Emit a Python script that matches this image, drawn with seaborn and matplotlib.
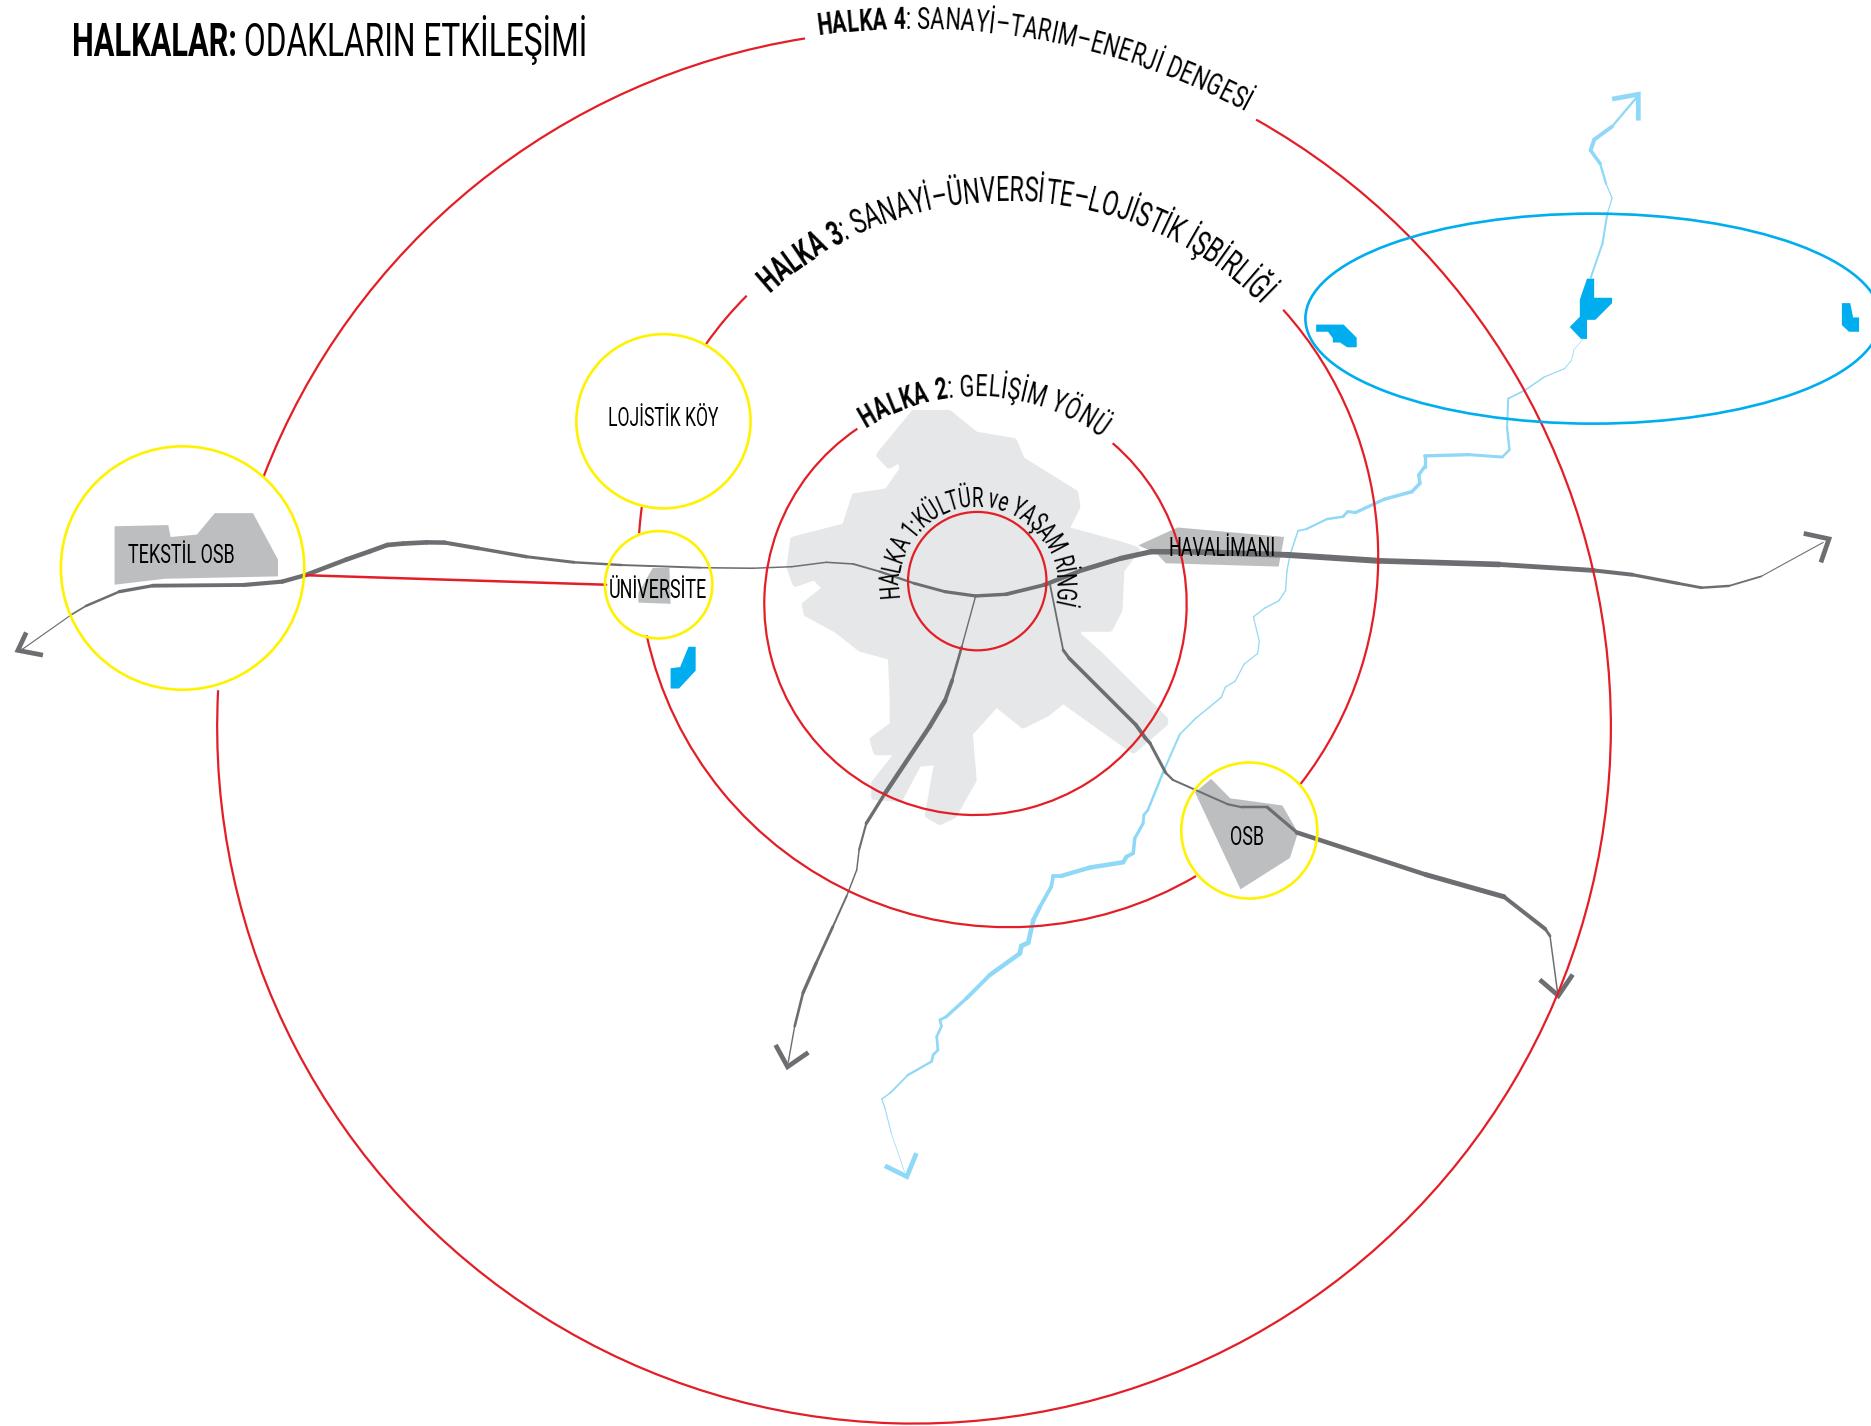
"""
halkalar diagram: rings, focal areas, roads and river
"""
import numpy as np
import pandas as pd
import matplotlib
matplotlib.use("Agg")
import matplotlib.pyplot as plt
import seaborn as sns
from fontTools.ttLib import TTFont
from fontTools.varLib import instancer
from matplotlib import font_manager as fm
from matplotlib.font_manager import FontProperties
from matplotlib.patches import Arc, Circle, Ellipse, Polygon
from matplotlib.textpath import TextToPath

sns.set_theme(style="white")

RED = "#e31e26"
YELLOW = "#fff200"
BLUE = "#00aeef"
RIVER = "#8fd8f7"
ROAD = "#6d6e71"
AREA = "#bcbec0"
CITY = "#e6e7e8"

# ---------- rings (cx, cy, r) and the angle spans that are actually drawn ----------
ring_centers = {"r1": (819, 487, 58), "r2": (817.5, 506, 177), "r3": (845, 467, 310), "r4": (766, 609, 584)}
ring_spans = {
    "r1": [(0, 360)],
    "r2": [(-49.5, 236)],
    "r3": [(-42, 37.8), (59.5, 167.8), (183.7, 187.8), (215.2, 225)],
    "r4": [(-60.6, 183), (201, 261)],
}
focus_x = [153, 556, 552, 1047]
focus_y = [476, 353, 490, 696]
focus_r = [102, 73, 45, 57]

# ---------- areas ----------
city_area = [(766, 346.4), (795, 346.4), (817.5, 364.5), (849.6, 370), (856, 385.5), (900.9, 413.4), (902.5, 424.6),
             (892.9, 444), (939.4, 456.7), (952.2, 460.9), (939.4, 477.6), (937.8, 511.2), (929.8, 526.5), (904, 526.5),
             (902.5, 532), (920.1, 547.5), (976.2, 603.3), (976, 606), (949.7, 628.5), (891, 586.6), (877, 597.8),
             (857.5, 607.5), (835, 589.4), (812.3, 614.5), (815.6, 653.6), (799, 683), (787.7, 688.5), (778, 683),
             (786, 638), (769.5, 639.7), (754, 669), (733, 667.6), (733, 656.4), (754, 630), (734.6, 630), (731.8, 620),
             (748.6, 607.5), (748.6, 586.6), (747, 550.3), (721.3, 543.3), (702, 528), (676.4, 514), (674.8, 507),
             (692.4, 493), (682.8, 483.2), (666.8, 488.8), (662, 474.8), (665.2, 452.5), (708.5, 441.3), (716.5, 416.2),
             (743.7, 412), (756.6, 393.8), (755, 384), (745.3, 389.7), (737.3, 381.3)]
tekstil_area = [(96, 441), (141, 440), (143, 450), (165, 448), (180, 430), (212, 430), (233, 469), (233, 483), (138, 485), (96, 490)]
uni_area = [(535, 505), (535, 497), (547, 476), (561, 476), (562, 506)]
airport_area = [(954, 457), (986.8, 442), (1076.2, 450), (1071.6, 474.8), (977, 472), (969.5, 464)]
osb_area = [(1001.5, 664), (1015, 652.7), (1031, 669), (1074.7, 675), (1087.8, 697.7), (1081, 719), (1039.6, 745.3)]

lake_a = [(577, 542), (583, 542), (583, 562), (569, 577), (562, 577), (562, 560), (570, 559)]
lake_b = [(1103, 272), (1126, 272), (1137, 283), (1137, 291), (1129, 291), (1123, 287), (1117, 287), (1117, 283.5), (1113, 278), (1103, 278)]
lake_c = [(1330, 233.5), (1336, 233.5), (1336, 249.5), (1351, 249.5), (1351, 254), (1337, 268), (1330, 268), (1330, 284),
          (1325, 284), (1315.5, 274), (1324, 265.4), (1324, 251)]
lake_d = [(1543.6, 254), (1550.6, 254), (1553, 266), (1558, 266), (1558, 278), (1549.6, 278), (1543.6, 272.4)]

# ---------- roads: x, y, stroke width ----------
road_w_x = [16, 60, 72, 100, 128, 204.4, 236.5, 256.5, 290, 310, 324.6, 338, 358, 372.7, 400.8, 441, 481, 521, 586.6, 631, 663.6, 692.4, 715, 737.3,
            766, 791.8, 817.5, 843.2, 875, 907.3, 939.4, 965, 1002, 1079, 1156, 1256.5, 1335.5, 1368, 1407, 1426, 1449, 1476, 1528]
road_w_y = [546, 515, 507.8, 495.8, 490.8, 490.2, 487.4, 481.8, 469, 462, 456.7, 455.5, 454.5, 454.7, 459.5, 466.5, 471.2, 473.5, 475.7, 476.2, 474.9, 471.2, 472.6, 479,
            488.8, 495.8, 499.4, 498, 490.2, 477.6, 467.9, 462.3, 462.5, 465, 470, 473, 478, 481.6, 489, 492.5, 491, 483, 454.5]
road_w_s = [0.5, 0.9, 1.2, 1.8, 2.2, 2.4, 2.6, 2.6, 2.8, 2.8, 2.8, 2.8, 2.8, 2.6, 2.2, 2.0, 1.6, 1.3, 1.0, 0.9, 0.9, 0.9, 1.0, 1.2,
            1.6, 1.9, 2.0, 2.1, 2.4, 2.8, 3.0, 3.2, 3.4, 3.6, 3.6, 3.2, 2.6, 2.2, 1.8, 1.6, 1.3, 0.9, 0.4]

road_s_x = [817.5, 806, 798, 792, 779, 741.6, 726, 720, 718, 709.5, 698, 684, 673, 666, 660.6]
road_s_y = [500, 542, 570, 587, 609, 665, 690, 712, 729, 751, 776.5, 807, 832, 860, 890]
road_s_s = [0.5, 1.2, 2.0, 2.6, 3.0, 2.4, 1.6, 1.0, 0.8, 1.0, 1.4, 2.0, 2.0, 1.2, 0.5]

road_e_x = [880, 891, 896, 952, 960, 963.7, 977, 983, 1029, 1040.8, 1062, 1087, 1195, 1260.4, 1295, 1299, 1305.5]
road_e_y = [490, 544.7, 551.6, 607.5, 618.7, 622.7, 647.7, 653.6, 674, 676.5, 676.5, 697.7, 733, 751.5, 778.5, 784.4, 833]
road_e_s = [0.6, 1.6, 2.0, 2.4, 2.2, 2.0, 1.6, 1.2, 1.2, 1.4, 1.6, 2.2, 3.2, 2.8, 2.0, 1.4, 0.4]

arrow_heads = {
    ROAD: [[(22, 530), (15, 545), (36, 549)], [(1511.6, 447), (1532.8, 451.6), (1526, 471.3)],
           [(650, 875.7), (660, 894), (677.4, 882)], [(1290.4, 821), (1306, 834.4), (1318, 816.7)]],
    RIVER: [[(1351, 83), (1373, 79), (1373, 101)], [(741.6, 977), (760, 986), (768, 966.4)]],
}

# ---------- river, south end to the lake, then lake to the north ----------
river_low_x = [758, 747, 741.6, 739, 746, 761, 780.7, 782, 786, 785, 789, 787.7, 793, 810, 829.6, 854.7, 856, 861.7, 866, 871.5, 881, 882.7,
               889.6, 913.4, 941.3, 944, 949.7, 951, 958, 958.6, 962, 975, 988.7, 1002, 1023.4, 1027, 1035, 1042.7, 1054, 1055.4, 1050.4,
               1060, 1071.6, 1077.4, 1078.5, 1081, 1087.8, 1094.7, 1112, 1125.5, 1129.4, 1136, 1160, 1183.3, 1190, 1189, 1194, 1194, 1231,
               1259, 1265, 1263, 1264, 1278, 1294, 1311, 1317, 1319, 1327]
river_low_y = [982, 949.7, 928.7, 921, 916, 900.8, 889.6, 884, 880, 868.7, 860, 854.7, 852, 836.6, 817, 799, 792.7, 790, 771, 760, 743, 734,
               734, 727, 722.6, 718, 715, 702.5, 690, 683, 678.8, 646.6, 615.4, 602, 584.5, 575.7, 571, 556.5, 547.7, 537.4, 517,
               509.5, 503.6, 494.8, 478.6, 465.4, 444.8, 443.4, 435, 433, 428.7, 429.5, 418.4, 412, 405, 398, 391, 382, 381,
               383, 377, 358, 334, 327, 316, 309, 302, 293, 284]
river_low_s = [0.3, 0.5, 0.7, 0.7, 1.0, 1.2, 1.6, 1.6, 1.6, 1.6, 1.6, 1.6, 1.8, 2.2, 2.6, 2.8, 2.8, 2.8, 2.8, 2.4, 2.2, 2.2,
               2.4, 2.8, 2.6, 2.4, 2.2, 2.0, 1.8, 1.6, 1.6, 1.4, 1.0, 0.9, 0.8, 0.8, 0.7, 0.7, 0.7, 0.7, 0.7,
               0.8, 0.8, 0.8, 0.8, 0.8, 1.0, 1.2, 1.4, 1.6, 1.8, 1.8, 2.0, 2.2, 2.0, 2.0, 2.0, 2.0, 2.0,
               1.6, 1.4, 1.4, 1.0, 1.0, 0.8, 0.6, 0.5, 0.4, 0.3]
river_up_x = [1333, 1343, 1347, 1351, 1346, 1341, 1333, 1336, 1351, 1373]
river_up_y = [233, 204, 179, 166, 154, 137, 126, 117, 106, 80]
river_up_s = [0.8, 1.6, 0.9, 0.5, 1.0, 1.8, 2.4, 2.4, 2.2, 0.6]

# ---------- text ----------
title_bold = "HALKALAR:"
title_rest = " ODAKLARIN ETKİLEŞİMİ"
labels = ["TEKSTİL OSB", "LOJİSTİK KÖY", "ÜNİVERSİTE", "HAVALİMANI", "OSB"]
label_x = [152, 556, 551, 1024, 1045]
label_y = [466, 351, 495, 460, 702]
label_size = [19, 18.5, 19, 19, 19]


def narrow_font(weight, out, k):
    """None of the installed families is condensed, so squeeze Roboto sideways into a temporary file."""
    path = fm.findfont(FontProperties(family="Roboto", weight=weight))
    f = TTFont(path, fontNumber=0)
    if "fvar" in f:
        axes = {a.axisTag: a.defaultValue for a in f["fvar"].axes}
        if "wght" in axes:
            axes["wght"] = 700 if weight == "bold" else 400
        f = instancer.instantiateVariableFont(f, axes)
    glyf, hmtx = f["glyf"], f["hmtx"]
    for name in f.getGlyphOrder():
        g = glyf[name]
        g.removeHinting()
        if g.isComposite():
            for c in g.components:
                c.x = round(c.x * k)
        elif g.numberOfContours > 0:
            g.coordinates.scale((k, 1))
            g.coordinates.toInt()
        adv, lsb = hmtx[name]
        hmtx[name] = (round(adv * k), round(lsb * k))
    for tag in ["GPOS", "GSUB", "GDEF", "kern", "hdmx", "VDMX", "LTSH", "fpgm", "prep", "cvt ", "STAT", "HVAR", "MVAR"]:
        if tag in f:
            del f[tag]
    f.save(out)
    return out


NORMAL_TTF = narrow_font("normal", "narrow_regular.ttf", 0.68)
BOLD_TTF = narrow_font("bold", "narrow_bold.ttf", 0.66)


def fp(size, bold=False):
    return FontProperties(fname=BOLD_TTF if bold else NORMAL_TTF, size=size)


def arc_label(ax, bold, rest, cx, cy, r, start, end, size):
    """Letters placed one by one on a circle, spread to fill start..end (degrees, clockwise)."""
    ttp = TextToPath()
    chars = [(c, True) for c in bold] + [(c, False) for c in rest]
    widths = []
    for c, is_bold in chars:
        w, _, _ = ttp.get_text_width_height_descent(c, fp(size, is_bold), False)
        widths.append(w)
    widths = np.array(widths)
    pos = np.cumsum(widths) - widths / 2
    ang = start + (end - start) * pos / widths.sum()
    for (c, is_bold), a in zip(chars, ang):
        rad = np.radians(a)
        ax.text(cx + r * np.cos(rad), cy + r * np.sin(rad), c, fontproperties=fp(size, is_bold), color="black",
                rotation=-(a + 90), rotation_mode="anchor", ha="center", va="baseline", zorder=9)


def stroke(ax, xs, ys, widths, color, z):
    # one short seaborn line per step, so the stroke can swell and thin out
    for i in range(len(xs) - 1):
        seg = pd.DataFrame({"x": xs[i:i + 2], "y": ys[i:i + 2]})
        sns.lineplot(data=seg, x="x", y="y", ax=ax, sort=False, estimator=None, color=color,
                     linewidth=0.6 * (widths[i] + widths[i + 1]), solid_capstyle="round", legend=False, zorder=z)


fig, ax = plt.subplots(figsize=(18.71, 14.26), dpi=100)
fig.subplots_adjust(0, 0, 1, 1)

ax.add_patch(Polygon(city_area, closed=True, facecolor=CITY, edgecolor=CITY, linewidth=5, joinstyle="round", zorder=1))

for pts in [tekstil_area, uni_area, airport_area, osb_area]:
    ax.add_patch(Polygon(pts, closed=True, facecolor=AREA, edgecolor="none", zorder=2))
for pts in [lake_a, lake_b, lake_c, lake_d]:
    ax.add_patch(Polygon(pts, closed=True, facecolor=BLUE, edgecolor="none", zorder=2))

stroke(ax, road_w_x, road_w_y, road_w_s, ROAD, 4)
stroke(ax, road_s_x, road_s_y, road_s_s, ROAD, 4)
stroke(ax, road_e_x, road_e_y, road_e_s, ROAD, 4)
stroke(ax, river_low_x, river_low_y, river_low_s, RIVER, 3)
stroke(ax, river_up_x, river_up_y, river_up_s, RIVER, 3)

for color, heads in arrow_heads.items():
    for head in heads:
        hx, hy = zip(*head)
        sns.lineplot(x=list(hx), y=list(hy), ax=ax, sort=False, estimator=None, color=color, linewidth=3.4,
                     solid_joinstyle="miter", solid_capstyle="butt", legend=False, zorder=4)

# rings
for key, (cx, cy, r) in ring_centers.items():
    for t1, t2 in ring_spans[key]:
        ax.add_patch(Arc((cx, cy), 2 * r, 2 * r, theta1=t1, theta2=t2, color=RED, linewidth=1.6, zorder=5))
sns.lineplot(x=[255, 508], y=[482, 490], ax=ax, color=RED, linewidth=1.8, sort=False, estimator=None, legend=False, zorder=5)

for fx, fy, fr in zip(focus_x, focus_y, focus_r):
    ax.add_patch(Circle((fx, fy), fr, facecolor="none", edgecolor=YELLOW, linewidth=1.9, zorder=6))
ax.add_patch(Ellipse((1335, 267), 482, 176, facecolor="none", edgecolor=BLUE, linewidth=1.9, zorder=6))

# labels
for txt, lx, ly, ls in zip(labels, label_x, label_y, label_size):
    ax.text(lx, ly, txt, fontproperties=fp(ls), ha="center", va="center", color="black", zorder=9)

arc_label(ax, "HALKA 4", ": SANAYİ–TARIM–ENERJİ DENGESİ", 766, 609, 585, -97.9, -61.7, 23)
arc_label(ax, "HALKA 3", ": SANAYİ–ÜNVERSİTE–LOJİSTİK İŞBİRLİĞİ", 845, 467, 298.5, -132.1, -45, 25)
arc_label(ax, "HALKA 2", ": GELİŞİM YÖNÜ", 817.5, 506, 174, -122, -53, 23)
arc_label(ax, "", "HALKA 1:KÜLTÜR ve YAŞAM RİNGİ", 819, 490, 65.5, -189, 14, 20)

t1 = ax.text(60, 47, title_bold, fontproperties=fp(33.5, True), ha="left", va="baseline", color="black", zorder=9)
ax.set_xlim(0, 1568)
ax.set_ylim(1195, 0)
ax.set_aspect("equal")
ax.axis("off")
fig.canvas.draw()
bb = t1.get_window_extent().transformed(ax.transData.inverted())
ax.text(bb.x1, 47, title_rest, fontproperties=fp(33.5), ha="left", va="baseline", color="black", zorder=9)

fig.savefig("out.png", dpi=100, facecolor="white")
